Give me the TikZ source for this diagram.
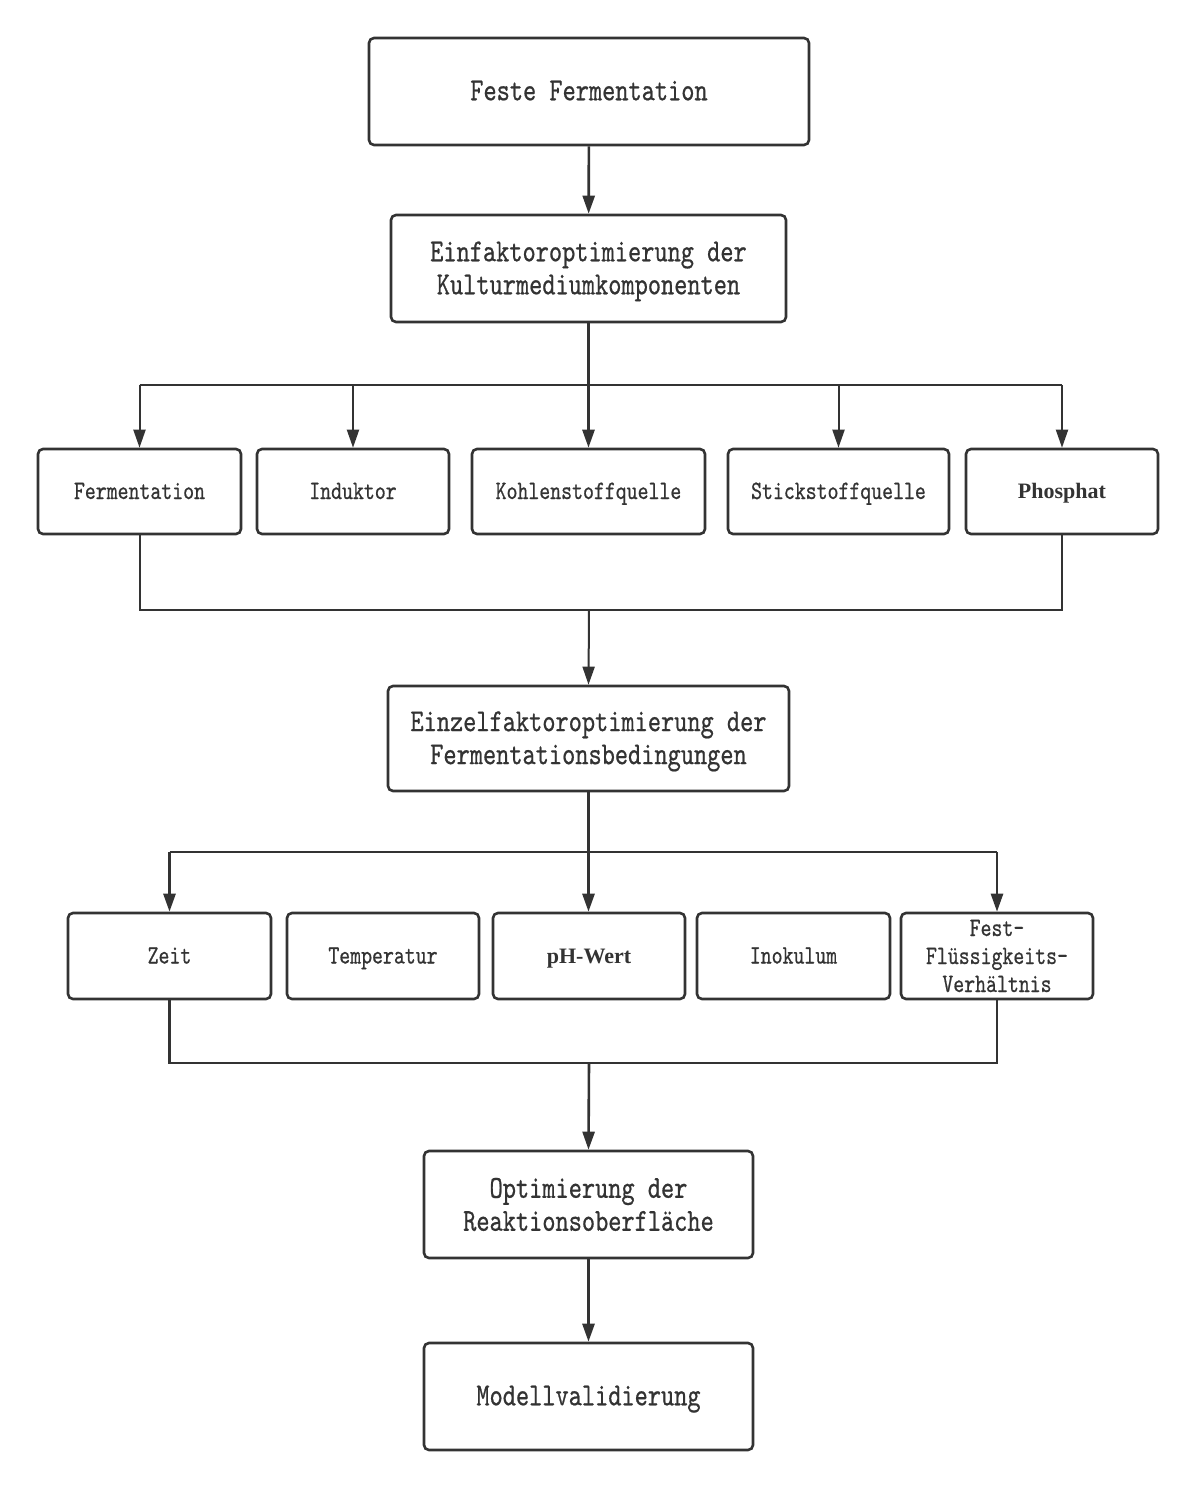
\documentclass[tikz,border=0pt]{standalone}
\usepackage{fontspec}
\usetikzlibrary{arrows.meta}
\newfontfamily\dfont{lmmono10-regular.otf}[FakeStretch=0.785,FakeBold=0.6]
\newfontfamily\bfont{Liberation Serif}
\definecolor{ink}{HTML}{333333}
\newcommand{\upfix}{\rule{0pt}{0.8em}}
\tikzset{
  box/.style={draw=ink, line width=2.6pt, rounded corners=5pt, fill=white, text=ink, align=center, inner sep=0pt},
  bigbox/.style={box, font=\dfont\fontsize{32}{33}\selectfont},
  smallbox/.style={box, font=\dfont\fontsize{26.5}{28}\selectfont},
  onesmall/.style={text height=15pt, text depth=0pt},
  onebig/.style={text height=17.5pt, text depth=0pt},
  boldbox/.style={box, font=\bfont\bfseries\fontsize{22}{26}\selectfont, text height=14pt, text depth=0pt},
  arr/.style={draw=ink, line width=2.6pt, -{Triangle[length=18pt,width=12pt]}},
  thinarr/.style={draw=ink, line width=2pt, -{Triangle[length=18pt,width=12pt]}},
  link/.style={draw=ink, line width=2pt},
  thicklink/.style={draw=ink, line width=2.6pt},
}
\begin{document}
\begin{tikzpicture}[x=1pt,y=-1pt]
\useasboundingbox[fill=white] (0,0) rectangle (1195,1488);
% main boxes
\node[bigbox, onebig, minimum width=440pt, minimum height=107pt] (top) at (589,91.5) {Feste Fermentation};
\node[bigbox, minimum width=395pt, minimum height=107pt] (einf) at (588.5,268.5) {\upfix Einfaktoroptimierung der\\Kulturmediumkomponenten};
% row 1
\node[smallbox, onesmall, minimum width=203pt, minimum height=85pt] (ferm) at (139.5,491.5) {Fermentation};
\node[smallbox, onesmall, minimum width=192pt, minimum height=85pt] (ind) at (353,491.5) {Induktor};
\node[smallbox, onesmall, minimum width=233pt, minimum height=85pt] (kohl) at (588.5,491.5) {Kohlenstoffquelle};
\node[smallbox, onesmall, minimum width=221pt, minimum height=85pt] (stick) at (838.5,491.5) {Stickstoffquelle};
\node[boldbox, minimum width=192pt, minimum height=85pt] (phos) at (1062,491.5) {Phosphat};
\node[bigbox, minimum width=401pt, minimum height=105pt] (einz) at (588.5,738.5) {\upfix Einzelfaktoroptimierung der\\Fermentationsbedingungen};
% row 2
\node[smallbox, onesmall, minimum width=203pt, minimum height=86pt] (zeit) at (169.5,956) {Zeit};
\node[smallbox, onesmall, minimum width=192pt, minimum height=86pt] (temp) at (383,956) {Temperatur};
\node[boldbox, minimum width=192pt, minimum height=86pt] (ph) at (589,956) {pH-Wert};
\node[smallbox, onesmall, minimum width=193pt, minimum height=86pt] (inok) at (793.5,956) {Inokulum};
\node[smallbox, minimum width=192pt, minimum height=86pt] (fest) at (997,956) {Fest-\\Flüssigkeits-\\Verhältnis};
\node[bigbox, minimum width=329pt, minimum height=107pt] (opt) at (588.5,1204.5) {Optimierung der\\Reaktionsoberfläche};
\node[bigbox, onebig, minimum width=329pt, minimum height=107pt] (mod) at (588.5,1396.5) {Modellvalidierung};
% bus coordinates
\coordinate (bus1) at (589,385);
\coordinate (merge1) at (589,610);
\coordinate (bus2) at (589,852);
\coordinate (merge2) at (589,1063);
% connectors top
\draw[arr] (top) -- (einf);
\draw[arr] (einf.south) -- (einf.south |- kohl.north);
\draw[link] (bus1 -| ferm.north) -- (bus1 -| phos.north);
\draw[thinarr] (bus1 -| ferm.north) -- (ferm.north);
\draw[thinarr] (bus1 -| ind.north) -- (ind.north);
\draw[thinarr] (bus1 -| stick.north) -- (stick.north);
\draw[thinarr] (bus1 -| phos.north) -- (phos.north);
% merge 1
\draw[link] (ferm.south) -- (merge1 -| ferm.south) -- (merge1 -| phos.south) -- (phos.south);
\draw[thinarr] (merge1) -- (einz.north);
% connectors row 2
\draw[arr] (einz.south) -- (einz.south |- ph.north);
\draw[thicklink] (bus2 -| zeit.north) -- (bus2 -| fest.north);
\draw[arr] (bus2 -| zeit.north) -- (zeit.north);
\draw[arr] (bus2 -| fest.north) -- (fest.north);
% merge 2
\draw[thicklink] (zeit.south) -- (merge2 -| zeit.south) -- (merge2 -| fest.south) -- (fest.south);
\draw[arr] (merge2) -- (opt.north);
\draw[arr] (opt) -- (mod);
\end{tikzpicture}
\end{document}
